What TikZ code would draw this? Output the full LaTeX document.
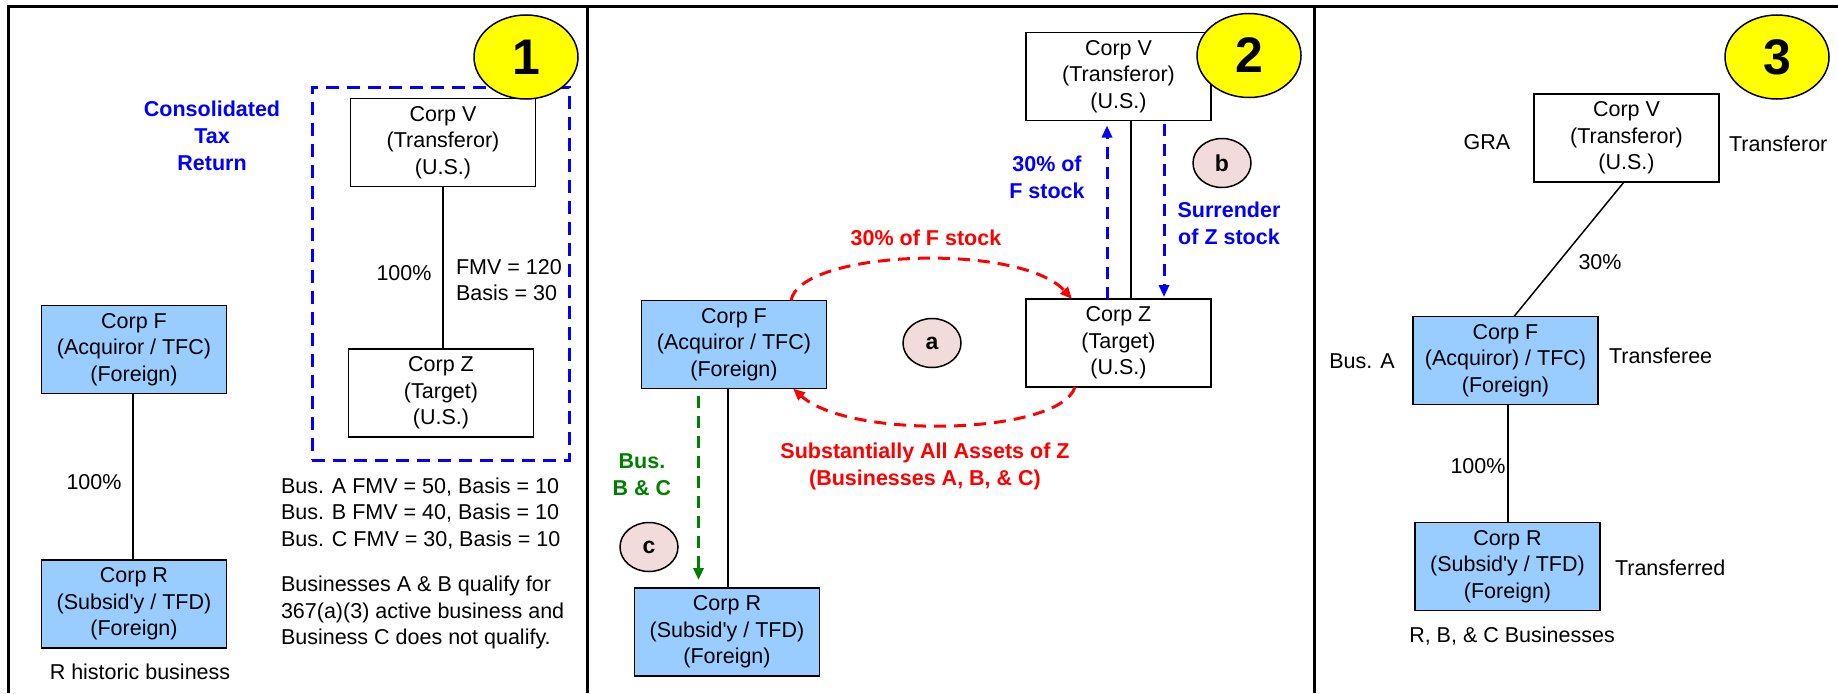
\documentclass[tikz,border=0pt]{standalone}
\usepackage{fontspec}
\setmainfont{Liberation Sans}[Ligatures=TeXOff]
\usetikzlibrary{arrows.meta,shapes.geometric}
\definecolor{boxblue}{HTML}{99CCFF}
\definecolor{pinkc}{HTML}{F2DCDB}
\definecolor{myblue}{HTML}{0000FF}
\definecolor{myred}{HTML}{FF0000}
\definecolor{mygreen}{HTML}{008000}
\definecolor{myyellow}{HTML}{FFFF00}
\begin{document}
\begin{tikzpicture}[x=1pt,y=-1pt,
  every node/.style={inner sep=0pt, outer sep=0pt},
  txt/.style={font=\fontsize{21.5}{26.5}\selectfont, align=center},
  corp/.style={txt, draw=black, line width=1.5pt, minimum width=185pt, minimum height=88pt, fill=white},
  corpf/.style={corp, fill=boxblue},
  numc/.style={ellipse, draw=black, line width=1.5pt, fill=myyellow, minimum width=104pt, minimum height=84pt, font=\fontsize{50}{50}\selectfont\bfseries},
  letc/.style={ellipse, draw=black, line width=1.5pt, fill=pinkc, minimum width=58pt, minimum height=49pt, font=\fontsize{23}{23}\selectfont\bfseries},
  btxt/.style={align=center, font=\fontsize{21.5}{27}\selectfont\bfseries},
  frameline/.style={line width=3pt},
  link/.style={line width=1.5pt},
  flow/.style={line width=3pt, dash pattern=on 12pt off 8pt, -{Triangle[length=12pt,width=10pt]}}
]
\useasboundingbox (0,0) rectangle (1838,693);
% frame
\draw[frameline] (8,693) -- (8,7) -- (1838,7);
\draw[frameline] (587.5,7) -- (587.5,693);
\draw[frameline] (1314,7) -- (1314,693);

% ---------------- panel 1
\node[draw=myblue, line width=3pt, dash pattern=on 13pt off 8pt, minimum width=257.5pt, minimum height=373pt] (grp) at (441,273.5) {};
\node[corp] (V1) at (443,142.5) {Corp V\\(Transferor)\\(U.S.)};
\node[corp] (Z1) at (441,393) {Corp Z\\(Target)\\(U.S.)};
\node[corpf] (F1) at (134,349.5) {Corp F\\(Acquiror / TFC)\\(Foreign)};
\node[corpf] (R1) at (134,604) {Corp R\\(Subsid'y / TFD)\\(Foreign)};
\draw[link] (V1.south) -- (V1.south |- Z1.north);
\draw[link] ([xshift=-1pt]F1.south) -- ([xshift=-1pt]F1.south |- R1.north);
\node[btxt, text=myblue] (ctr) at (212,136) {Consolidated\\Tax\\Return};
\node[txt] (p100a) at (404,273) {100\%};
\node[txt, align=left, anchor=west] (fmv) at (456,280) {FMV = 120\\Basis = 30};
\node[txt] (p100b) at (94,482) {100\%};
\node[txt] (rhist) at (140,672) {R historic business};
\node[txt, align=left, anchor=west] (bus) at (281,563.5) {Bus. A FMV = 50, Basis = 10\\Bus. B FMV = 40, Basis = 10\\Bus. C FMV = 30, Basis = 10\\[19pt]Businesses A \& B qualify for\\367(a)(3) active business and\\Business C does not qualify.};

% ---------------- panel 2
\node[corp] (V2) at (1118.5,76.5) {Corp V\\(Transferor)\\(U.S.)};
\node[corp] (Z2) at (1118.5,343) {Corp Z\\(Target)\\(U.S.)};
\node[corpf] (F2) at (734,344.5) {Corp F\\(Acquiror / TFC)\\(Foreign)};
\node[corpf] (R2) at (727,632) {Corp R\\(Subsid'y / TFD)\\(Foreign)};
\draw[link] ([xshift=12.5pt]V2.south) -- ([xshift=12.5pt]V2.south |- Z2.north);
\draw[link] ([xshift=-6pt]F2.south) -- ([xshift=-6pt]F2.south |- R2.north);
\draw[flow, myblue, shorten >=5pt] ([xshift=-11.5pt]Z2.north) -- ([xshift=-11.5pt]Z2.north |- V2.south);
\draw[flow, myblue, shorten <=3pt, shorten >=2pt] ([xshift=45.5pt]V2.south) -- ([xshift=45.5pt]V2.south |- Z2.north);
\draw[flow, mygreen, shorten <=7pt, shorten >=8pt] ([xshift=-35.5pt]F2.south) -- ([xshift=-35.5pt]F2.south |- R2.north);
\draw[flow, myred] ([xshift=57pt]F2.north) .. controls (800,250) and (1020,242) .. ([xshift=-46.5pt]Z2.north);
\draw[flow, myred] ([xshift=-43.5pt]Z2.south) .. controls (1060,435) and (850,440) .. ([xshift=59pt]F2.south);
\node[btxt, text=myblue] (t30v) at (1047,177) {30\% of\\F stock};
\node[btxt, text=myblue] (tsur) at (1229,223.5) {Surrender\\of Z stock};
\node[btxt, text=myred] (t30f) at (926,238) {30\% of F stock};
\node[btxt, text=myred] (tsub) at (925,466) {Substantially All Assets of Z\\(Businesses A, B, \& C)};
\node[btxt, text=mygreen] (tbus) at (642,475) {Bus.\\B \& C};
\node[letc] (ca) at (932,343) {a};
\node[letc] (cb) at (1222,163) {b};
\node[letc] (cc) at (649,547) {c};

% ---------------- panel 3
\node[corp] (V3) at (1626.5,138) {Corp V\\(Transferor)\\(U.S.)};
\node[corpf] (F3) at (1505.5,360.5) {Corp F\\(Acquiror) / TFC)\\(Foreign)};
\node[corpf] (R3) at (1507.5,566.5) {Corp R\\(Subsid'y / TFD)\\(Foreign)};
\draw[link] ([xshift=-2.5pt]V3.south) -- ([xshift=8.5pt]F3.north);
\draw[link] ([xshift=2.5pt]F3.south) -- ([xshift=2.5pt]F3.south |- R3.north);
\node[txt] (gra) at (1487,142) {GRA};
\node[txt, anchor=west] (tror) at (1729,144) {Transferor};
\node[txt] (p30) at (1600,262) {30\%};
\node[txt] (busa) at (1362,361) {Bus. A};
\node[txt, anchor=west] (tree) at (1609,356) {Transferee};
\node[txt] (p100c) at (1478,466) {100\%};
\node[txt, anchor=west] (tred) at (1615,568) {Transferred};
\node[txt] (rbc) at (1512,636) {R, B, \& C Businesses};

% numbered circles
\node[numc] (n1) at (526,57) {1};
\node[numc] (n2) at (1249,55.5) {2};
\node[numc] (n3) at (1777,57) {3};
\end{tikzpicture}
\end{document}
